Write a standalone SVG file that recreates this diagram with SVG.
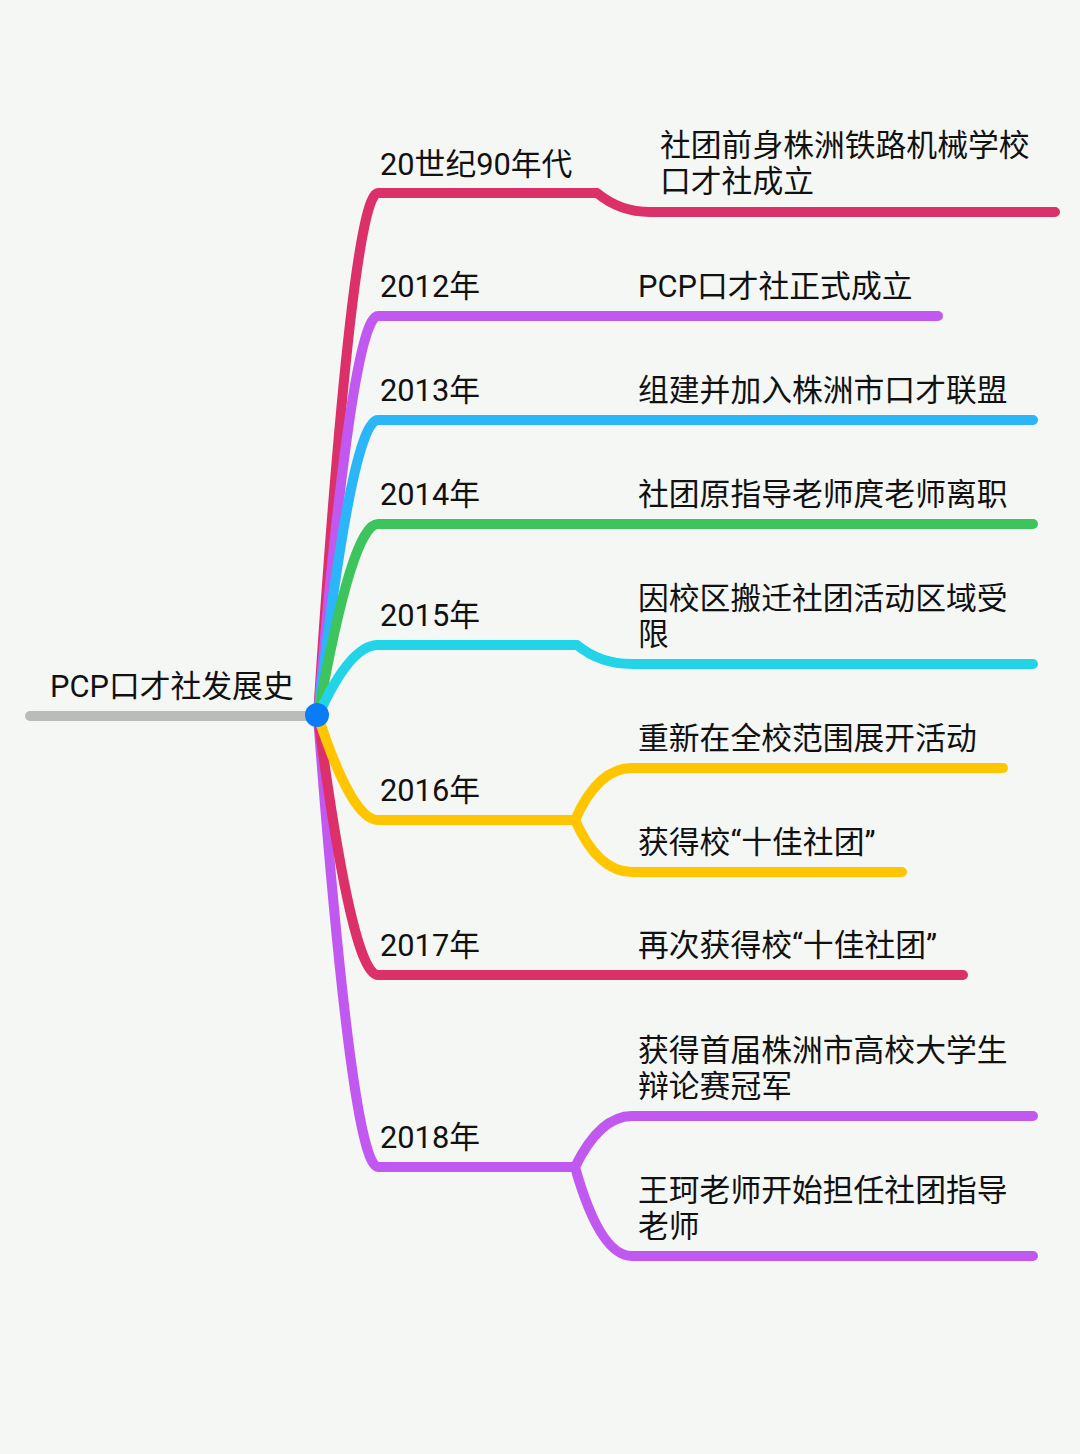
<svg xmlns="http://www.w3.org/2000/svg" width="1080" height="1454" viewBox="0 0 1080 1454">
<style>
.l{fill:none;stroke-width:10;stroke-linecap:round;stroke-linejoin:round}
.pk{stroke:#DB3069}.pu{stroke:#C159F0}.bl{stroke:#2CB6FA}.gr{stroke:#3DC45D}.cy{stroke:#23D4E8}.ye{stroke:#FFC600}.gy{stroke:#BBBBBB}
text{font-family:Roboto,"Noto Sans CJK SC",sans-serif;font-size:30.8px;fill:#111111}
</style>
<rect width="1080" height="1454" fill="#F5F7F4"/>
<g id="connectors">
<path class="l gy" d="M30,716 H318"/>
<path class="l pk" d="M318,716 Q352,193 378,193 H597 Q620,212 650,212 H1055"/>
<path class="l pu" d="M318,716 Q352,316 378,316 H938"/>
<path class="l bl" d="M318,716 Q352,420 378,420 H1033"/>
<path class="l gr" d="M318,716 Q352,524 378,524 H1033"/>
<path class="l cy" d="M318,716 Q350,645 378,645 H577 Q600,664 632,664 H1033"/>
<path class="l pu" d="M318,716 Q352,1167 378,1167 H575"/>
<path class="l pu" d="M575,1167 Q600,1116 632,1116 H1033"/>
<path class="l pu" d="M575,1167 Q600,1256 632,1256 H1033"/>
<path class="l pk" d="M318,716 Q352,975 378,975 H963"/>
<path class="l ye" d="M318,716 Q352,820 378,820 H575"/>
<path class="l ye" d="M575,820 Q598,768 632,768 H1003"/>
<path class="l ye" d="M575,820 Q598,872 632,872 H902"/>
</g>
<g id="root">
<text x="50" y="697">PCP口才社发展史</text>
<circle cx="317" cy="715" r="12" fill="#0A7CF7"/>
</g>
<g id="n1990"><text x="380" y="175">20世纪90年代</text></g>
<g id="n1990c"><text x="660" y="156">社团前身株洲铁路机械学校</text><text x="660" y="192">口才社成立</text></g>
<g id="n2012"><text x="380" y="297">2012年</text></g>
<g id="n2012c"><text x="638" y="297">PCP口才社正式成立</text></g>
<g id="n2013"><text x="380" y="401">2013年</text></g>
<g id="n2013c"><text x="638" y="401">组建并加入株洲市口才联盟</text></g>
<g id="n2014"><text x="380" y="505">2014年</text></g>
<g id="n2014c"><text x="638" y="505">社团原指导老师庹老师离职</text></g>
<g id="n2015"><text x="380" y="626">2015年</text></g>
<g id="n2015c"><text x="638" y="609">因校区搬迁社团活动区域受</text><text x="638" y="645">限</text></g>
<g id="n2016"><text x="380" y="801">2016年</text></g>
<g id="n2016a"><text x="638" y="749">重新在全校范围展开活动</text></g>
<g id="n2016b"><text x="638" y="853">获得校“十佳社团”</text></g>
<g id="n2017"><text x="380" y="956">2017年</text></g>
<g id="n2017c"><text x="638" y="956">再次获得校“十佳社团”</text></g>
<g id="n2018"><text x="380" y="1148">2018年</text></g>
<g id="n2018a"><text x="638" y="1061">获得首届株洲市高校大学生</text><text x="638" y="1097">辩论赛冠军</text></g>
<g id="n2018b"><text x="638" y="1201">王珂老师开始担任社团指导</text><text x="638" y="1237">老师</text></g>
</svg>
